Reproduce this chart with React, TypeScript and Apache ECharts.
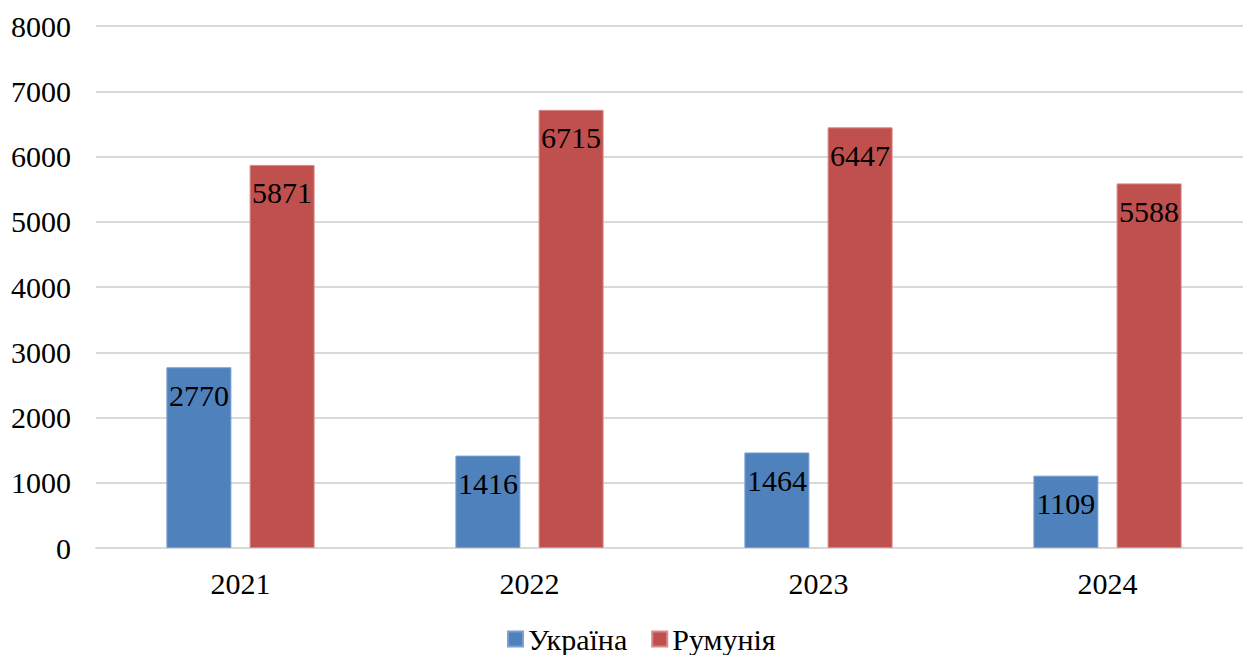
import React, { useEffect, useRef } from "react";
import * as echarts from "echarts";

const years = ["2021", "2022", "2023", "2024"];
const ukraine = [2770, 1416, 1464, 1109];
const romania = [5871, 6715, 6447, 5588];
const seriesNames = ["Україна", "Румунія"];

const FONT = "Liberation Serif";
const SIZE = 30;

export default function App() {
  const ref = useRef<HTMLDivElement>(null);

  useEffect(() => {
    document.body.style.margin = "0";
    if (!ref.current) return;
    const chart = echarts.init(ref.current, undefined, { renderer: "svg" });
    const label = {
      show: true,
      position: "insideTop",
      distance: 13,
      color: "#000",
      fontFamily: FONT,
      fontSize: SIZE,
    };
    chart.setOption({
      animation: false,
      backgroundColor: "#fff",
      textStyle: { fontFamily: FONT },
      // plot area runs a little past the visible right edge
      grid: { left: 96, right: 8, top: 26, bottom: 107 },
      legend: {
        top: 619,
        left: 502,
        itemWidth: 15,
        itemHeight: 15,
        itemGap: 24,
        icon: "rect",
        textStyle: { fontFamily: FONT, fontSize: SIZE, color: "#000" },
        data: seriesNames,
      },
      xAxis: {
        type: "category",
        data: years,
        axisTick: { show: false },
        axisLine: { lineStyle: { color: "#d9d9d9", width: 2 } },
        axisLabel: { fontFamily: FONT, fontSize: SIZE, color: "#000", margin: 20 },
      },
      yAxis: {
        type: "value",
        min: 0,
        max: 8000,
        interval: 1000,
        axisLine: { show: false },
        axisTick: { show: false },
        splitLine: { lineStyle: { color: "#d9d9d9", width: 2 } },
        axisLabel: {
          fontFamily: FONT,
          fontSize: SIZE,
          color: "#000",
          margin: 25,
          formatter: (v: number) => String(v),
        },
      },
      series: [
        {
          name: seriesNames[0],
          type: "bar",
          data: ukraine,
          barWidth: 65,
          barGap: "28%",
          itemStyle: { color: "#4f81bd", borderColor: "#7aa0d0", borderWidth: 1 },
          label,
        },
        {
          name: seriesNames[1],
          type: "bar",
          data: romania,
          barWidth: 65,
          itemStyle: { color: "#c0504d", borderColor: "#d88a88", borderWidth: 1 },
          label,
        },
      ],
    });
    return () => chart.dispose();
  }, []);

  return (
    <div style={{ width: 1243, height: 655, overflow: "hidden" }}>
      <div ref={ref} style={{ width: 1260, height: 655 }} />
    </div>
  );
}
